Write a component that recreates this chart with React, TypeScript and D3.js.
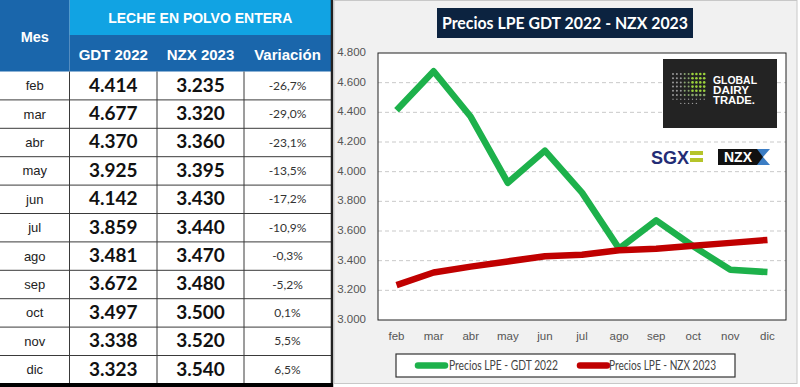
import React from "react";
import * as d3 from "d3";

const months = ["feb", "mar", "abr", "may", "jun", "jul", "ago", "sep", "oct", "nov", "dic"];
const gdt2022 = [4414, 4677, 4370, 3925, 4142, 3859, 3481, 3672, 3497, 3338, 3323];
const nzx2023 = [3235, 3320, 3360, 3395, 3430, 3440, 3470, 3480, 3500, 3520, 3540];
const variacion = ["-26,7%", "-29,0%", "-23,1%", "-13,5%", "-17,2%", "-10,9%", "-0,3%", "-5,2%", "0,1%", "5,5%", "6,5%"];
const yTicks = [3000, 3200, 3400, 3600, 3800, 4000, 4200, 4400, 4600, 4800];
const seriesNames = ["Precios LPE - GDT 2022", "Precios LPE - NZX 2023"];

const W = 800;
const H = 387;

const es = d3.formatLocale({ decimal: ",", thousands: ".", grouping: [3], currency: ["$", ""] });
const fmt = es.format(",.0f");
const fmtVal = (v: number) => es.format(",.3f")(v / 1000).replace(",", ".");

const cols = [0, 69.5, 157, 244, 331];
const rowTop = 71.5;
const rowH = 28.4;

const plot = { left: 378, right: 786, top: 53, bottom: 320 };

const green = "#1db14b";
const red = "#c00000";

function Table() {
  const rows = d3.range(months.length);
  return (
    <g>
      <rect x={0} y={0} width={331} height={384} fill="#ffffff" />
      <rect x={cols[1]} y={0} width={cols[4] - cols[1]} height={35} fill="#11a3e3" />
      <rect x={0} y={0} width={cols[1]} height={rowTop} fill="#1a66ab" />
      <rect x={cols[1]} y={35} width={cols[4] - cols[1]} height={rowTop - 35} fill="#1a66ab" />
      <text x={cols[1] / 2} y={42} textAnchor="middle" fill="#fff" fontFamily="Liberation Sans, Arial" fontWeight="bold" fontSize={14.5}>Mes</text>
      <text x={(cols[1] + cols[4]) / 2} y={23} textAnchor="middle" fill="#fff" fontFamily="Liberation Sans, Arial" fontWeight="bold" fontSize={14}>LECHE EN POLVO ENTERA</text>
      {["GDT 2022", "NZX 2023", "Variación"].map((t, i) => (
        <text key={t} x={(cols[i + 1] + cols[i + 2]) / 2} y={60} textAnchor="middle" fill="#fff" fontFamily="Liberation Sans, Arial" fontWeight="bold" fontSize={15}>{t}</text>
      ))}
      {rows.map((i) => {
        const y = rowTop + i * rowH;
        const cy = y + rowH / 2 + 1;
        return (
          <g key={i}>
            <line x1={0} x2={cols[4]} y1={y + rowH} y2={y + rowH} stroke="#3a3a3a" strokeWidth={1} />
            <text x={cols[1] / 2} y={cy} dominantBaseline="middle" textAnchor="middle" fill="#222" fontFamily="Liberation Sans Narrow, Liberation Sans, Arial" fontSize={13}>{months[i]}</text>
            <text x={(cols[1] + cols[2]) / 2} y={cy} dominantBaseline="middle" textAnchor="middle" fill="#111" fontFamily="Lato, Open Sans" fontWeight="bold" fontSize={19}>{fmtVal(gdt2022[i])}</text>
            <text x={(cols[2] + cols[3]) / 2} y={cy} dominantBaseline="middle" textAnchor="middle" fill="#111" fontFamily="Lato, Open Sans" fontWeight="bold" fontSize={19}>{fmtVal(nzx2023[i])}</text>
            <text x={(cols[3] + cols[4]) / 2} y={cy} dominantBaseline="middle" textAnchor="middle" fill="#333" fontFamily="Lato, Open Sans" fontSize={12}>{variacion[i]}</text>
          </g>
        );
      })}
      {cols.slice(1, 4).map((x) => (
        <line key={x} x1={x} x2={x} y1={rowTop} y2={384} stroke="#3a3a3a" strokeWidth={1} />
      ))}
      <line x1={cols[4] + 1} x2={cols[4] + 1} y1={0} y2={387} stroke="#222" strokeWidth={2.5} />
      <rect x={0} y={383} width={333} height={4} fill="#000" />
    </g>
  );
}

function GdtLogo() {
  const x0 = 663, y0 = 59;
  const dots: { x: number; y: number; c: string; r: number }[] = [];
  for (let r = 0; r < 8; r++) {
    for (let c = 0; c < 9; c++) {
      const lime = c >= 5 && r < 5 ? "#9bd23c" : c >= 3 && r < 6 ? "#8aa870" : "#9a9a9a";
      const rad = r >= 6 ? 0.7 : c >= 5 ? 1.3 : 1;
      if (r === 7 && (c < 2 || c > 6)) continue;
      dots.push({ x: x0 + 10 + c * 3.9, y: y0 + 15 + r * 4.2, c: lime, r: rad });
    }
  }
  const widths = [44, 36, 42];
  return (
    <g>
      <rect x={x0} y={y0} width={114} height={69} fill="#232323" />
      {dots.map((d, i) => (
        <circle key={i} cx={d.x} cy={d.y} r={d.r} fill={d.c} />
      ))}
      {["GLOBAL", "DAIRY", "TRADE."].map((t, i) => (
        <text key={t} x={x0 + 50} y={y0 + 25 + i * 10} fill="#fff" fontFamily="Liberation Sans, Arial" fontWeight="bold" fontSize={10} textLength={widths[i]} lengthAdjust="spacingAndGlyphs">{t}</text>
      ))}
    </g>
  );
}

function ExchangeLogos() {
  return (
    <g>
      <text x={651} y={164} fill="#232c75" fontFamily="Liberation Sans, Arial" fontWeight="bold" fontSize={18}>SGX</text>
      <rect x={690} y={151} width={13} height={4} fill="#b5c42a" />
      <rect x={690} y={158} width={13} height={4} fill="#b5c42a" />
      <rect x={718} y={149} width={40} height={16} fill="#111" />
      <text x={738} y={162} textAnchor="middle" fill="#fff" fontFamily="Liberation Sans, Arial" fontWeight="bold" fontSize={14}>NZX</text>
      <path d="M757,149 L770,149 L763,157 L770,165 L757,165 Z" fill="#3b7dc4" />
      <path d="M757,149 L763,157 L757,165 Z" fill="#111" />
    </g>
  );
}

function Chart() {
  const x = d3.scaleBand<string>().domain(months).range([plot.left, plot.right]);
  const y = d3.scaleLinear().domain([3000, 4800]).range([plot.bottom, plot.top]);
  const cx = (m: string) => (x(m) ?? 0) + x.bandwidth() / 2;
  const line = d3
    .line<number>()
    .x((_, i) => cx(months[i]))
    .y((d) => y(d));

  const lx = 396, ly = 354, lw = 339, lh = 23;

  return (
    <g>
      <rect x={334} y={0.5} width={463} height={383} fill="#f1f1f1" stroke="#c8c8c8" />
      <rect x={437} y={8} width={256} height={30} fill="#0c2340" />
      <text x={565} y={29} textAnchor="middle" fill="#fff" fontFamily="Lato, Open Sans" fontWeight="bold" fontSize={17} textLength={246} lengthAdjust="spacingAndGlyphs">Precios LPE GDT 2022 - NZX 2023</text>

      <rect x={plot.left} y={plot.top} width={plot.right - plot.left} height={plot.bottom - plot.top} fill="#fff" />
      {yTicks.slice(1, -1).map((t) => (
        <line key={t} x1={plot.left} x2={plot.right} y1={y(t)} y2={y(t)} stroke="#c9c9c9" strokeDasharray="4,3" />
      ))}
      <rect x={plot.left} y={plot.top} width={plot.right - plot.left} height={plot.bottom - plot.top} fill="none" stroke="#222" strokeWidth={1} />
      {yTicks.map((t) => (
        <text key={t} x={366} y={y(t)} dominantBaseline="middle" textAnchor="end" fill="#555" fontFamily="Liberation Sans Narrow, Liberation Sans, Arial" fontSize={11.5}>{fmt(t)}</text>
      ))}
      {months.map((m) => (
        <text key={m} x={cx(m)} y={337} dominantBaseline="middle" textAnchor="middle" fill="#555" fontFamily="Liberation Sans Narrow, Liberation Sans, Arial" fontSize={11.5}>{m}</text>
      ))}

      <path d={line(gdt2022) ?? ""} fill="none" stroke={green} strokeWidth={6.5} strokeLinejoin="round" />
      <path d={line(nzx2023) ?? ""} fill="none" stroke={red} strokeWidth={6.5} strokeLinejoin="round" />

      <GdtLogo />
      <ExchangeLogos />

      <rect x={lx} y={ly} width={lw} height={lh} fill="#fff" stroke="#333" strokeWidth={1.2} />
      <line x1={418} x2={445} y1={ly + lh / 2} y2={ly + lh / 2} stroke={green} strokeWidth={6.5} strokeLinecap="round" />
      <text x={449} y={ly + lh / 2 + 1} dominantBaseline="middle" fill="#444" fontFamily="Lato, Open Sans" fontSize={13} textLength={109} lengthAdjust="spacingAndGlyphs">{seriesNames[0]}</text>
      <line x1={580} x2={607} y1={ly + lh / 2} y2={ly + lh / 2} stroke={red} strokeWidth={6.5} strokeLinecap="round" />
      <text x={609} y={ly + lh / 2 + 1} dominantBaseline="middle" fill="#444" fontFamily="Lato, Open Sans" fontSize={13} textLength={107} lengthAdjust="spacingAndGlyphs">{seriesNames[1]}</text>
    </g>
  );
}

export default function App() {
  return (
    <div style={{ position: "absolute", left: 0, top: 0 }}>
      <svg width={W} height={H} style={{ display: "block", background: "#fff" }}>
        <Table />
        <Chart />
      </svg>
    </div>
  );
}
